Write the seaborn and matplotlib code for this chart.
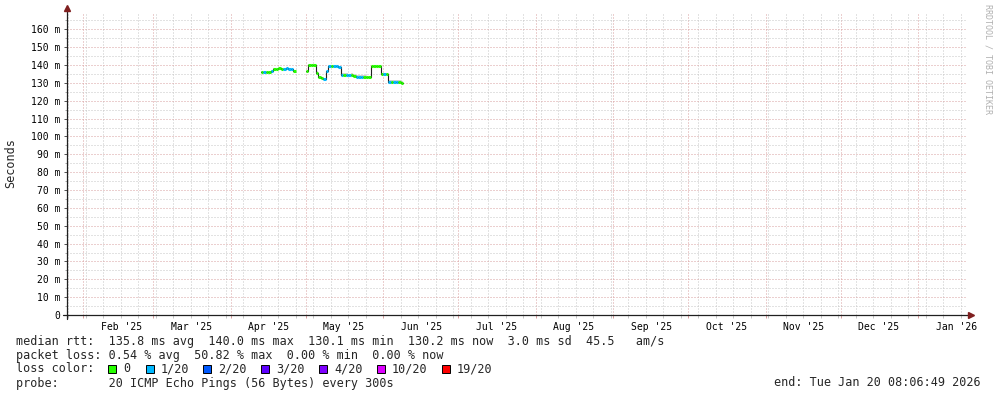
import numpy as np
import pandas as pd
import matplotlib
matplotlib.use('Agg')
import matplotlib.pyplot as plt
import matplotlib.dates as mdates
import matplotlib.ticker as mticker
from matplotlib.patches import Rectangle
import seaborn as sns

# graph window (smokeping "last 360 days")
end_time = pd.Timestamp('2026-01-20 08:06:49')
start_time = end_time - pd.Timedelta(days=360)

# daily median rtt (ms), nan = no data
days = pd.date_range('2025-04-13', '2025-06-09', freq='D')
median_ms = [136.0, 135.9, 135.9, 136.1, 136.8, 137.9, 138.0, 138.1, 138.0, 138.0, 138.1, 138.0, 137.6, 136.9,
             np.nan, np.nan, np.nan, np.nan,
             136.4, 140.0, 140.1, 140.0, 135.8, 133.3, 132.6, 132.1, 136.4, 139.2,
             139.3, 139.2, 139.2, 138.9, 134.6, 134.3, 134.3, 134.2, 134.4, 134.0,
             133.5, 133.3, 133.3, 133.2, 133.3, 133.4, 139.2, 139.2, 139.3, 139.2,
             135.1, 135.0, 135.1, 130.5, 130.4, 130.5, 130.4, 130.3, 130.2, 130.2]
# loss class per day (index into loss_colors)
loss_idx = [0, 1, 0, 0, 1, 0, 0, 0, 0, 1, 1, 1, 1, 0,
            0, 0, 0, 0,
            0, 0, 0, 0, 0, 0, 0, 1, 1, 1,
            0, 1, 1, 1, 1, 0, 1, 1, 0, 0,
            1, 1, 1, 0, 0, 0, 0, 0, 0, 0,
            0, 1, 0, 1, 0, 1, 1, 0, 0, 0]
# smoke spread above / below the median (ms)
smoke_up = [0.6, 0.4, 0.4, 0.5, 0.4, 0.5, 0.4, 0.4, 0.5, 0.4, 0.4, 0.5, 0.6, 0.5,
            0, 0, 0, 0,
            0.5, 0.6, 0.5, 0.5, 0.6, 0.5, 0.6, 0.5, 0.5, 0.8,
            0.7, 0.8, 0.7, 0.6, 0.9, 1.0, 1.1, 1.0, 0.9, 1.0,
            1.1, 1.0, 0.9, 1.0, 0.8, 0.6, 0.5, 0.4, 0.5, 0.4,
            0.6, 0.7, 0.6, 1.2, 1.3, 1.2, 1.3, 1.2, 1.1, 1.1]
smoke_dn = [0.4, 0.3, 0.3, 0.3, 0.3, 0.3, 0.3, 0.3, 0.3, 0.3, 0.3, 0.3, 0.4, 0.3,
            0, 0, 0, 0,
            0.3, 0.3, 0.3, 0.3, 0.4, 0.3, 0.4, 0.3, 0.3, 0.3,
            0.3, 0.3, 0.3, 0.3, 0.3, 0.3, 0.3, 0.3, 0.3, 0.3,
            0.3, 0.3, 0.3, 0.3, 0.3, 0.3, 0.3, 0.3, 0.3, 0.3,
            0.3, 0.3, 0.3, 0.3, 0.3, 0.3, 0.3, 0.3, 0.3, 0.3]

loss_labels = ['0', '1/20', '2/20', '3/20', '4/20', '10/20', '19/20']
loss_colors = ['#26ff00', '#00b8ff', '#0059ff', '#5e00ff', '#7e00ff', '#dd00ff', '#ff0000']

stats_line = "median rtt:  135.8 ms avg  140.0 ms max  130.1 ms min  130.2 ms now  3.0 ms sd  45.5   am/s"
loss_line = "packet loss: 0.54 % avg  50.82 % max  0.00 % min  0.00 % now"
probe_line = "probe:       20 ICMP Echo Pings (56 Bytes) every 300s"
end_line = "end: Tue Jan 20 08:06:49 2026"

W, H = 997, 397
sns.set_theme(style='white')
plt.rcParams['font.family'] = ['DejaVu Sans Mono']

fig = plt.figure(figsize=(W / 100, H / 100), dpi=100)
fig.patch.set_facecolor('white')
ax_l, ax_r, ax_t, ax_b = 66.5, 966.5, 12.5, 315.0
ax = fig.add_axes([ax_l / W, 1 - ax_b / H, (ax_r - ax_l) / W, (ax_b - ax_t) / H])
ax.set_facecolor('white')

df = pd.DataFrame({'day': days, 'median': median_ms, 'loss': loss_idx,
                   'up': smoke_up, 'dn': smoke_dn})
df['lo'] = df['median'] - df['dn']
df['hi'] = df['median'] + df['up']

# smoke
ax.fill_between(df['day'], df['lo'], df['hi'], step='post', color='#d2d2d2', lw=0, zorder=2)

# median step line (dark), split at the data gap
df['run'] = df['median'].isna().cumsum()
for _, part in df.dropna(subset=['median']).groupby('run'):
    sns.lineplot(data=part, x='day', y='median', drawstyle='steps-post', color='#202020',
                 lw=0.8, ax=ax, zorder=3, estimator=None)

# loss-coloured median segments
for i in range(len(df) - 1):
    if np.isnan(df['median'][i]):
        continue
    ax.hlines(df['median'][i], df['day'][i], df['day'][i + 1],
              color=loss_colors[df['loss'][i]], lw=2.2, zorder=4, capstyle='butt')

ax.set_xlim(start_time, end_time)
ax.set_ylim(0, 169.4)
ax.set_xlabel('')
ax.set_ylabel('')

# grids: minor gray, major dark red, dotted
minor_c = '#c6c6c6'
major_c = '#d9a0a0'
ax.xaxis.set_major_locator(mdates.MonthLocator())
ax.xaxis.set_minor_locator(mdates.WeekdayLocator(byweekday=mdates.SU))
ax.xaxis.set_major_formatter(mticker.NullFormatter())
ax.yaxis.set_major_locator(mticker.MultipleLocator(10))
ax.yaxis.set_minor_locator(mticker.MultipleLocator(5))
ax.yaxis.set_major_formatter(mticker.FuncFormatter(lambda v, p: '0' if v == 0 else f'{int(round(v))} m'))
ax.grid(True, which='major', color=major_c, lw=0.72, ls=(0, (1, 2)))
ax.grid(True, which='minor', color=minor_c, lw=0.72, ls=(0, (1, 2)))
ax.set_axisbelow(True)
ax.tick_params(axis='y', which='major', length=2.2, width=0.72, color='#555555', pad=2.2,
               labelsize=7, labelcolor='black', left=True)
ax.tick_params(axis='y', which='minor', length=1.5, width=0.72, color='#aaaaaa', left=True)
ax.tick_params(axis='x', which='major', length=2, width=0.72, color=major_c, bottom=True)
ax.tick_params(axis='x', which='minor', length=2, width=0.72, color=minor_c, bottom=True)

# month labels centred in each month
month_starts = pd.date_range('2025-02-01', '2026-01-01', freq='MS')
month_labels = [d.strftime("%b '%y") for d in month_starts]
sec = ax.secondary_xaxis('bottom')
sec.set_xticks(mdates.date2num(month_starts + pd.Timedelta(days=15, hours=8)), month_labels)
sec.tick_params(length=0, pad=5, labelsize=7, labelcolor='black')
for s in sec.spines.values():
    s.set_visible(False)

# axes lines with arrow heads
for s in ax.spines.values():
    s.set_visible(False)
ax.plot([0, 0], [-4 / 302.5, 1.012], color='#202020', lw=0.9, transform=ax.transAxes, clip_on=False, zorder=6)
ax.plot([-4 / 900, 1.003], [0, 0], color='#202020', lw=0.9, transform=ax.transAxes, clip_on=False, zorder=6)
ax.plot([0], [1.015], marker='^', ms=4, color='#7f1f1f', mec='#7f1f1f', transform=ax.transAxes, clip_on=False, zorder=7)
ax.plot([1.005], [0], marker='>', ms=4, color='#7f1f1f', mec='#7f1f1f', transform=ax.transAxes, clip_on=False, zorder=7)

fig.text(11 / W, 1 - 163 / H, 'Seconds', rotation=90, ha='center', va='center', fontsize=8.5)
fig.text(988 / W, 1 - 59 / H, 'RRDTOOL / TOBI OETIKER', rotation=270, ha='center', va='center',
         fontsize=6, color='#b0b0b0')

# legend block
fs = 8.45
fig.text(16 / W, 1 - 341 / H, stats_line, ha='left', va='center', fontsize=fs)
fig.text(16 / W, 1 - 355 / H, loss_line, ha='left', va='center', fontsize=fs)
fig.text(16 / W, 1 - 369 / H, 'loss color:', ha='left', va='center', fontsize=fs)
swatch_x = [108.3, 145.7, 203, 261, 319, 377, 441.7]
for sx, lab, col in zip(swatch_x, loss_labels, loss_colors):
    fig.add_artist(Rectangle((sx / W, 1 - 373 / H), 8 / W, 8 / H, transform=fig.transFigure,
                             facecolor=col, edgecolor='black', lw=0.7))
    fig.text((sx + 15) / W, 1 - 369 / H, lab, ha='left', va='center', fontsize=fs)
fig.text(16 / W, 1 - 383 / H, probe_line, ha='left', va='center', fontsize=fs)
fig.text(981 / W, 1 - 383 / H, end_line, ha='right', va='center', fontsize=fs)

fig.savefig('out.png', dpi=100, facecolor='white')
